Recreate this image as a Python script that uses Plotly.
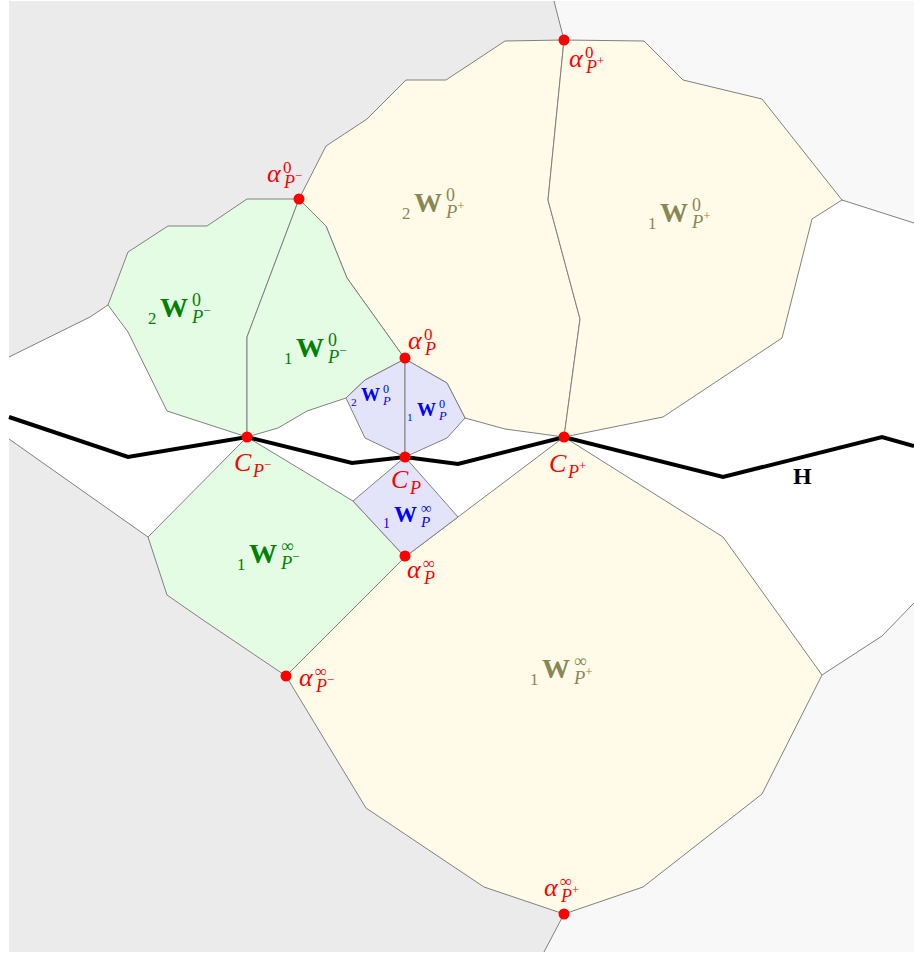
import plotly.graph_objects as go

# ---------------- data (pixel-space diagram coordinates) ----------------
# background regions
gray_top_x = [9, 554, 564, 505, 446, 406, 367, 326, 299, 247, 207, 168, 128, 108, 90, 9]
gray_top_y = [1, 1, 40, 41, 80, 80, 119, 146, 199, 199, 226, 226, 252, 305, 317, 357]
gray_bot_x = [9, 148, 167, 203, 286, 366, 484, 564, 544, 9]
gray_bot_y = [439, 537, 595, 620, 676, 808, 887, 914, 952, 952]
light_top_x = [554, 914, 914, 842, 762, 683, 644, 564]
light_top_y = [1, 1, 223, 200, 99, 80, 41, 40]
light_bot_x = [914, 882, 822, 762, 643, 564, 544, 914]
light_bot_y = [603, 636, 675, 794, 887, 914, 952, 952]

# wall segments (not part of polygons)
walls = [
    ([554, 564], [1, 40]),
    ([9, 90, 108], [357, 317, 305]),
    ([9, 148], [439, 537]),
    ([842, 914], [200, 223]),
    ([914, 882, 822], [603, 636, 675]),
    ([564, 544], [914, 952]),
]

# yellow cells (P+)
y_2W0_x = [299, 326, 367, 406, 446, 505, 564, 548, 580, 564, 505, 465, 447, 405, 347, 326]
y_2W0_y = [199, 146, 119, 80, 80, 41, 40, 200, 319, 437, 429, 418, 383, 359, 278, 226]
y_1W0_x = [564, 644, 683, 762, 842, 812, 782, 663, 564, 580, 548]
y_1W0_y = [40, 41, 80, 99, 200, 219, 338, 417, 437, 319, 200]
y_1Wi_x = [564, 723, 822, 762, 643, 564, 484, 366, 286, 405, 458]
y_1Wi_y = [437, 537, 675, 794, 887, 914, 887, 808, 676, 557, 517]
# green cells (P-)
g_2W0_x = [299, 247, 207, 168, 128, 108, 128, 167, 247, 247]
g_2W0_y = [199, 199, 226, 226, 252, 305, 332, 411, 437, 337]
g_1W0_x = [247, 247, 299, 326, 347, 405, 365, 346, 307, 278]
g_1W0_y = [437, 337, 199, 226, 278, 359, 380, 398, 411, 428]
g_1Wi_x = [247, 353, 405, 286, 203, 167, 148]
g_1Wi_y = [437, 501, 557, 676, 620, 595, 537]
# blue cells (P)
b_2W0_x = [405, 365, 346, 365, 405]
b_2W0_y = [359, 380, 398, 438, 457]
b_1W0_x = [405, 447, 465, 447, 405]
b_1W0_y = [359, 383, 418, 438, 457]
b_1Wi_x = [405, 458, 405, 353]
b_1Wi_y = [457, 517, 557, 501]

# wall H
h_x = [9, 128, 247, 352, 405, 458, 564, 723, 882, 914]
h_y = [417, 457, 437, 463, 457, 464, 437, 477, 437, 446]

# marked points
pt_x = [564, 299, 405, 247, 405, 564, 405, 286, 564]
pt_y = [40, 199, 358, 437, 457, 437, 556, 676, 914]

# ---------------- styling ----------------
GRAY = "#ebebeb"
LIGHT = "#f8f8f8"
YEL = "#fffbe8"
GRN = "#e3fce3"
BLU = "#e3e3fa"
EDGE = "#808080"
OLIVE = "#878755"
GTXT = "#008000"
BTXT = "#0000ff"
RED = "#ff0000"
SERIF = "Liberation Serif"

fig = go.Figure()

def fill(xs, ys, color, edge=True):
    fig.add_trace(go.Scatter(
        x=xs + xs[:1], y=ys + ys[:1], mode="lines", fill="toself",
        fillcolor=color,
        line=dict(color=EDGE if edge else color, width=1 if edge else 0),
        hoverinfo="skip"))

fill(gray_top_x, gray_top_y, GRAY, False)
fill(gray_bot_x, gray_bot_y, GRAY, False)
fill(light_top_x, light_top_y, LIGHT, False)
fill(light_bot_x, light_bot_y, LIGHT, False)

for xs, ys in walls:
    fig.add_trace(go.Scatter(x=xs, y=ys, mode="lines",
                             line=dict(color=EDGE, width=1), hoverinfo="skip"))

for xs, ys, c in [(y_2W0_x, y_2W0_y, YEL), (y_1W0_x, y_1W0_y, YEL), (y_1Wi_x, y_1Wi_y, YEL),
                  (g_2W0_x, g_2W0_y, GRN), (g_1W0_x, g_1W0_y, GRN), (g_1Wi_x, g_1Wi_y, GRN),
                  (b_2W0_x, b_2W0_y, BLU), (b_1W0_x, b_1W0_y, BLU), (b_1Wi_x, b_1Wi_y, BLU)]:
    fill(xs, ys, c)

fig.add_trace(go.Scatter(x=h_x, y=h_y, mode="lines",
                         line=dict(color="black", width=4), hoverinfo="skip"))
fig.add_trace(go.Scatter(x=pt_x, y=pt_y, mode="markers",
                         marker=dict(color=RED, size=11, line=dict(width=0)),
                         hoverinfo="skip"))

# ---------------- labels ----------------
def place(text, x, base, size, color, xanchor):
    fig.add_annotation(x=x, y=base + 0.216 * size + 1, xref="x", yref="y",
                       text=text, showarrow=False, xanchor=xanchor, yanchor="bottom",
                       font=dict(family=SERIF, size=size, color=color))

def wlabel(pre, left, base, S, sup, sign, color):
    w = 1.07 * S
    place("<b>W</b>", left + w / 2, base + 1, S, color, "center")
    place(pre, left - 1, base + 0.3 * S, 0.6 * S, color, "right")
    place(sup, left + w + 1, base - 0.34 * S, 0.64 * S, color, "left")
    sub = "<i>P</i>" + (f"<sup>{sign}</sup>" if sign else "")
    place(sub, left + w, base + 0.26 * S, 0.66 * S, color, "left")

def rlabel(main, left, base, sup, sign):
    S = 26
    w = {"α": 0.58, "C": 0.66}[main] * S
    place(f"<i>{main}</i>", left, base, S, RED, "left")
    if sup:
        place(sup, left + w + 1, base - 9, 17, RED, "left")
    sub = "<i>P</i>" + (f"<sup>{sign}</sup>" if sign else "")
    place(sub, left + w + 1, base + 6, 18, RED, "left")

wlabel("2", 413, 212, 28, "0", "+", OLIVE)
wlabel("1", 659, 222, 28, "0", "+", OLIVE)
wlabel("1", 541, 678, 28, "∞", "+", OLIVE)
wlabel("2", 159, 317, 28, "0", "−", GTXT)
wlabel("1", 295, 357, 28, "0", "−", GTXT)
wlabel("1", 248, 563, 28, "∞", "−", GTXT)
wlabel("2", 360, 401, 19, "0", None, BTXT)
wlabel("1", 416, 416, 19, "0", None, BTXT)
wlabel("1", 393, 522, 23, "∞", None, BTXT)

rlabel("α", 265, 183, "0", "−")
rlabel("α", 567, 68, "0", "+")
rlabel("α", 406, 350, "0", None)
rlabel("C", 232, 472, None, "−")
rlabel("C", 389, 489, None, None)
rlabel("C", 547, 473, None, "+")
rlabel("α", 405, 579, "∞", None)
rlabel("α", 297, 687, "∞", "−")
rlabel("α", 542, 897, "∞", "+")

place("<b>H</b>", 802, 485, 24, "black", "center")

fig.update_layout(
    width=914, height=954, margin=dict(l=0, r=0, t=0, b=0),
    paper_bgcolor="white", plot_bgcolor="white", showlegend=False,
    xaxis=dict(range=[0, 914], visible=False, fixedrange=True),
    yaxis=dict(range=[954, 0], visible=False, fixedrange=True),
)

fig.write_html("out.html", config={"displayModeBar": False},
               post_script="document.body.style.margin='0';")
